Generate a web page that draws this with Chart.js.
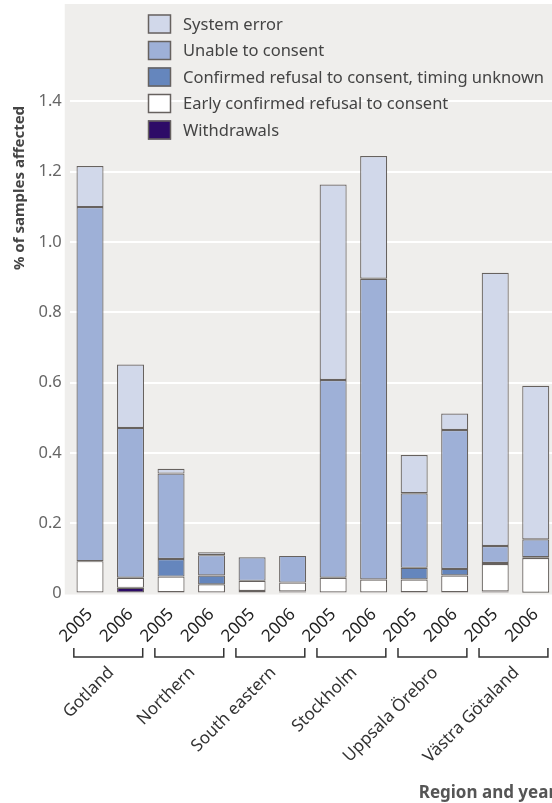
<!DOCTYPE html>
<html>
<head>
<meta charset="utf-8">
<script src="https://cdn.jsdelivr.net/npm/chart.js@4"></script>
<style>
  html, body { margin: 0; padding: 0; overflow: hidden; background: #fff; }
  canvas { display: block; }
</style>
</head>
<body>
<canvas id="chart" width="556" height="803"></canvas>
<script>
const years = ['2005', '2006', '2005', '2006', '2005', '2006', '2005', '2006', '2005', '2006', '2005', '2006']
const regions = ['Gotland', 'Northern', 'South eastern', 'Stockholm', 'Uppsala Örebro', 'Västra Götaland']

// % of samples affected, bottom of stack first
const withdrawals = [0, 0.016, 0.004, 0.003, 0.007, 0.006, 0.003, 0.003, 0.004, 0.004, 0.006, 0.002]
const earlyRefusal = [0.092, 0.029, 0.044, 0.023, 0.029, 0.025, 0.042, 0.037, 0.036, 0.047, 0.078, 0.099]
const refusalTimingUnknown = [0, 0, 0.050, 0.025, 0, 0, 0, 0, 0.033, 0.019, 0.003, 0.002]
const unableToConsent = [1.007, 0.426, 0.243, 0.058, 0.067, 0.076, 0.562, 0.855, 0.212, 0.395, 0.048, 0.051]
const systemError = [0.117, 0.180, 0.014, 0.008, 0, 0, 0.556, 0.349, 0.109, 0.047, 0.777, 0.437]

const FONT = "'Noto Sans', sans-serif"
const EDGE = '#67625f'

const bar = (label, data, color) => ({
  label, data,
  backgroundColor: color,
  borderColor: EDGE,
  borderWidth: 1.2,
  borderSkipped: false,
  categoryPercentage: 1,
  barPercentage: 0.667,
})

// grey panel behind the plot, reaching up to the top of the figure
const panel = {
  id: 'panel',
  beforeDraw(chart) {
    const { ctx, chartArea: a } = chart
    ctx.save()
    ctx.fillStyle = '#efeeec'
    ctx.fillRect(a.left - 5, 4, a.right - a.left + 5, a.bottom - 4 + 1)
    ctx.restore()
  }
}

// legend in the plot, region brackets + labels, y title
const extras = {
  id: 'extras',
  afterDraw(chart) {
    const { ctx } = chart
    const x = chart.scales.x
    ctx.save()

    // legend
    const sets = chart.data.datasets.slice().reverse()
    ctx.font = `16.5px ${FONT}`
    ctx.textBaseline = 'middle'
    ctx.textAlign = 'left'
    sets.forEach((ds, i) => {
      const cy = 24 + i * 26.5
      ctx.fillStyle = ds.backgroundColor
      ctx.fillRect(148, cy - 9.5, 23, 19)
      ctx.strokeStyle = EDGE
      ctx.lineWidth = 1.5
      ctx.strokeRect(148.5, cy - 9, 22, 18)
      ctx.fillStyle = '#444'
      ctx.fillText(ds.label, 183, cy + 1)
    })

    // region brackets
    ctx.strokeStyle = '#333'
    ctx.lineWidth = 1.5
    const half = (x.getPixelForValue(1) - x.getPixelForValue(0)) * 0.85
    regions.forEach((name, i) => {
      const c = (x.getPixelForValue(2 * i) + x.getPixelForValue(2 * i + 1)) / 2 - 2
      ctx.beginPath()
      ctx.moveTo(c - half, 648)
      ctx.lineTo(c - half, 657)
      ctx.lineTo(c + half, 657)
      ctx.lineTo(c + half, 648)
      ctx.stroke()

      ctx.save()
      ctx.translate(c + 3, 670)
      ctx.rotate(-Math.PI / 4)
      ctx.font = `17px ${FONT}`
      ctx.fillStyle = '#333'
      ctx.textAlign = 'right'
      ctx.textBaseline = 'middle'
      ctx.fillText(name, 0, 0)
      ctx.restore()
    })

    // y axis title
    ctx.translate(20, 188)
    ctx.rotate(-Math.PI / 2)
    ctx.font = `bold 15px ${FONT}`
    ctx.fillStyle = '#444'
    ctx.textAlign = 'center'
    ctx.textBaseline = 'middle'
    ctx.fillText('% of samples affected', 0, 0)
    ctx.restore()
  }
}

new Chart(document.getElementById('chart'), {
  type: 'bar',
  data: {
    labels: years,
    datasets: [
      bar('Withdrawals', withdrawals, '#2d0b67'),
      bar('Early confirmed refusal to consent', earlyRefusal, '#ffffff'),
      bar('Confirmed refusal to consent, timing unknown', refusalTimingUnknown, '#6586bd'),
      bar('Unable to consent', unableToConsent, '#9eb0d7'),
      bar('System error', systemError, '#d1d8ea'),
    ]
  },
  options: {
    responsive: false,
    animation: false,
    layout: { padding: { top: 48.5, left: 0, right: 0, bottom: 0 } },
    plugins: {
      legend: { display: false },
      tooltip: { enabled: false },
    },
    scales: {
      x: {
        stacked: true,
        grid: { display: false },
        border: { display: false },
        ticks: {
          autoSkip: false,
          minRotation: 45,
          maxRotation: 45,
          padding: 3,
          color: '#222',
          font: { family: FONT, size: 17 },
        },
        title: {
          display: true,
          text: 'Region and year',
          align: 'end',
          color: '#555',
          padding: { top: 0, bottom: 0 },
          font: { family: FONT, size: 17, weight: 'bold' },
        },
        afterFit: scale => {
          scale.height = 209.5
          scale.paddingLeft = 0
          scale.paddingRight = 0
        },
      },
      y: {
        stacked: true,
        min: 0,
        max: 1.55,
        border: { display: false },
        grid: {
          drawTicks: false,
          lineWidth: 2,
          color: c => c.tick && c.tick.value === 0 ? 'rgba(0,0,0,0)' : '#ffffff',
        },
        ticks: {
          stepSize: 0.2,
          padding: 8,
          color: '#666',
          font: { family: FONT, size: 16.5 },
          callback: v => v === 0 ? '0' : v.toFixed(1),
        },
        afterBuildTicks: scale => {
          scale.ticks = scale.ticks.filter(t => Math.abs(t.value * 5 - Math.round(t.value * 5)) < 1e-6)
        },
        afterFit: scale => {
          scale.width = 69.75
          scale.paddingTop = 0
          scale.paddingBottom = 0
        },
      }
    }
  },
  plugins: [panel, extras]
})
</script>
</body>
</html>
